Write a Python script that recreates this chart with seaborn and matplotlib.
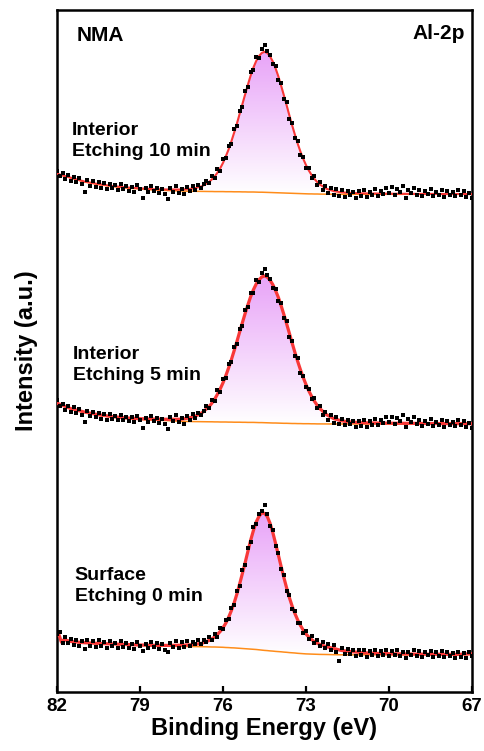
import numpy as np
import matplotlib
matplotlib.use("Agg")
import matplotlib.pyplot as plt
import seaborn as sns
from matplotlib.colors import LinearSegmentedColormap

sns.set_theme(style="ticks")
plt.rcParams['font.family'] = ['Liberation Sans', 'DejaVu Sans']
plt.rcParams['font.weight'] = 'bold'
plt.rcParams['text.color'] = 'black'
plt.rcParams['axes.labelcolor'] = 'black'
plt.rcParams['xtick.color'] = 'black'
plt.rcParams['ytick.color'] = 'black'

# ---------------- data ----------------
# measured binding-energy axis (eV), 0.1 eV step
data_be = np.round(np.arange(82.0, 66.95, -0.1), 1)

# raw counts (already vertically offset for stacking)
int_10min = [521, 516, 519, 513, 517, 511, 515, 510, 514, 508,
             500, 512, 506, 511, 505, 510, 504, 509, 503, 508,
             504, 507, 502, 508, 503, 506, 501, 505, 500, 507,
             503, 494, 504, 500, 506, 501, 504, 499, 503, 498,
             493, 504, 500, 506, 499, 503, 498, 505, 501, 506,
             502, 507, 504, 508, 511, 509, 516, 514, 523, 521,
             533, 534, 546, 548, 563, 566, 581, 585, 601, 605,
             620, 622, 635, 634, 643, 647, 641, 637, 628, 626,
             612, 609, 593, 590, 573, 569, 554, 551, 537, 535,
             524, 524, 514, 516, 507, 510, 502, 506, 499, 504,
             497, 503, 496, 502, 495, 501, 497, 500, 494, 501,
             496, 502, 495, 500, 497, 503, 496, 501, 498, 504,
             499, 505, 497, 503, 500, 506, 494, 502, 499, 504,
             497, 502, 496, 501, 498, 503, 496, 500, 497, 502,
             495, 501, 497, 500, 496, 502, 497, 501, 495, 499,
             494]

int_5min = [292, 286, 288, 282, 286, 280, 285, 279, 283, 277,
            270, 281, 276, 280, 275, 279, 273, 278, 272, 278,
            273, 276, 272, 277, 272, 275, 271, 275, 270, 276,
            272, 264, 274, 270, 276, 271, 274, 269, 273, 268,
            263, 275, 271, 277, 270, 274, 268, 276, 272, 278,
            274, 279, 277, 281, 286, 284, 292, 291, 302, 300,
            313, 314, 328, 330, 345, 348, 363, 366, 382, 385,
            399, 399, 412, 410, 419, 423, 417, 413, 404, 403,
            391, 389, 374, 371, 355, 351, 336, 334, 319, 316,
            305, 303, 293, 294, 284, 286, 277, 280, 272, 277,
            269, 275, 268, 273, 267, 272, 268, 271, 265, 271,
            266, 272, 265, 271, 267, 273, 267, 272, 269, 275,
            270, 275, 268, 274, 271, 277, 265, 273, 270, 275,
            268, 272, 266, 271, 268, 273, 266, 270, 267, 272,
            265, 271, 267, 270, 266, 272, 267, 271, 265, 269,
            264]

int_0min = [58, 60, 49, 55, 49, 53, 47, 52, 46, 51,
            43, 52, 46, 51, 45, 52, 46, 50, 44, 51,
            46, 49, 44, 51, 45, 49, 44, 48, 43, 50,
            46, 41, 48, 44, 50, 45, 49, 43, 48, 42,
            40, 49, 45, 51, 44, 50, 45, 51, 46, 50,
            48, 52, 48, 52, 50, 55, 52, 58, 55, 64,
            63, 72, 73, 84, 87, 101, 106, 122, 127, 144,
            150, 165, 168, 178, 181, 187, 178, 166, 162, 146,
            139, 123, 117, 101, 97, 83, 81, 69, 69, 59,
            61, 53, 56, 49, 52, 46, 50, 44, 48, 42,
            47, 40, 31, 44, 38, 43, 38, 42, 36, 42,
            37, 42, 35, 41, 37, 42, 36, 41, 37, 42,
            36, 41, 37, 42, 36, 40, 34, 40, 37, 42,
            36, 41, 35, 40, 37, 41, 35, 40, 36, 41,
            35, 40, 36, 39, 34, 40, 35, 39, 34, 40,
            36]

# fitted envelope / background energies
fit_be = [82.0, 81.5, 81.0, 80.5, 80.0, 79.5, 79.0, 78.5, 78.0, 77.5, 77.25, 77.0, 76.75,
          76.5, 76.4, 76.3, 76.2, 76.1, 76.0, 75.9, 75.8, 75.7, 75.6,
          75.5, 75.4, 75.3, 75.2, 75.1, 75.0, 74.9, 74.8, 74.7, 74.6,
          74.5, 74.4, 74.3, 74.2, 74.1, 74.0, 73.9, 73.8, 73.7, 73.6,
          73.5, 73.4, 73.3, 73.2, 73.1, 73.0, 72.9, 72.8, 72.7, 72.6,
          72.5, 72.25, 72.0, 71.75, 71.5, 71.0, 70.5, 70.0, 69.5, 69.0, 68.5, 68.0, 67.5, 67.0]

env_10min = [518.3, 514.3, 510.4, 507.9, 506.0, 504.6, 503.7, 502.8, 502.5, 502.5, 502.9, 503.9, 505.9,
             510.1, 512.7, 515.6, 519.4, 523.8, 529.1, 535.5, 542.4, 550.4, 559.1,
             568.1, 578.0, 587.8, 597.6, 607.3, 616.5, 624.5, 631.0, 635.9, 639.0,
             640.2, 639.0, 635.6, 630.5, 623.7, 615.7, 606.4, 596.7, 586.7, 576.5,
             566.6, 557.2, 548.3, 540.3, 533.2, 526.9, 521.6, 517.1, 513.2, 510.1,
             507.5, 503.1, 500.9, 499.8, 499.2, 498.7, 498.5, 498.3, 498.2, 498.1, 498.1, 498.0, 498.0, 497.9]
bg_10min = [518.0, 514.0, 510.0, 507.5, 505.5, 504.0, 503.0, 502.0, 501.5, 501.0, 500.8, 500.7, 500.6,
            500.5, 500.5, 500.4, 500.4, 500.4, 500.4, 500.3, 500.3, 500.3, 500.2,
            500.2, 500.2, 500.1, 500.1, 500.0, 500.0, 500.0, 499.9, 499.8, 499.8,
            499.7, 499.6, 499.5, 499.4, 499.3, 499.2, 499.1, 499.0, 498.9, 498.8,
            498.7, 498.6, 498.5, 498.4, 498.3, 498.2, 498.1, 498.1, 498.0, 498.0,
            497.9, 497.8, 497.7, 497.7, 497.7, 497.7, 497.7, 497.7, 497.7, 497.7, 497.7, 497.7, 497.7, 497.7]

env_5min = [288.8, 283.4, 279.9, 277.3, 275.4, 274.1, 273.3, 272.9, 272.7, 272.8, 273.9, 275.8, 279.4,
            285.5, 288.9, 292.9, 297.8, 303.1, 309.2, 316.2, 323.9, 332.1, 341.1,
            350.2, 359.9, 369.3, 378.5, 387.2, 395.4, 402.3, 408.0, 412.2, 415.0,
            416.1, 414.9, 411.9, 407.4, 401.4, 394.7, 386.4, 377.5, 368.2, 358.6,
            348.9, 339.5, 330.6, 322.2, 314.5, 307.5, 301.2, 295.8, 291.0, 286.9,
            283.4, 277.2, 273.4, 271.4, 270.2, 269.3, 269.0, 268.8, 268.7, 268.6, 268.5, 268.4, 268.35, 268.3]
bg_5min = [288.5, 283.0, 279.5, 276.8, 274.8, 273.4, 272.5, 271.9, 271.4, 270.6, 270.5, 270.4, 270.3,
           270.2, 270.2, 270.1, 270.1, 270.0, 270.0, 270.0, 269.9, 269.9, 269.8,
           269.8, 269.8, 269.7, 269.7, 269.6, 269.6, 269.6, 269.5, 269.4, 269.4,
           269.3, 269.2, 269.1, 269.0, 269.0, 268.9, 268.8, 268.7, 268.7, 268.6,
           268.5, 268.5, 268.4, 268.4, 268.3, 268.3, 268.3, 268.2, 268.2, 268.1,
           268.1, 268.05, 268.0, 268.0, 268.0, 268.0, 268.0, 268.0, 268.0, 268.0, 268.0, 268.0, 268.0, 268.0]

fit_be_0min = [82.0, 81.95, 81.9, 81.85, 81.8, 81.75, 81.7, 81.6] + fit_be[1:]
env_0min = [57.5, 58.5, 55.0, 50.5, 48.5, 52.5, 52.0, 51.3,
            50.5, 49.25, 48.6, 48.05, 47.5, 47.0, 46.7, 46.6, 46.8, 47.1, 47.7, 48.8,
            51.6, 53.2, 55.0, 57.6, 60.6, 64.2, 68.8, 74.5, 81.2, 88.9,
            97.8, 107.9, 118.5, 129.3, 140.7, 151.8, 161.6, 170.0, 175.6, 179.0,
            178.7, 175.5, 168.8, 159.5, 148.6, 137.1, 125.6, 114.5, 104.0, 94.3,
            85.8, 78.4, 72.0, 66.5, 61.9, 58.0, 55.0, 52.5, 50.4, 48.8,
            47.6, 45.2, 43.6, 41.7, 40.7, 39.4, 38.7, 38.3, 38.1, 37.9, 37.8, 37.7, 37.65, 38.3]
bg_0min = [57.3, 58.3, 54.8, 50.3, 48.3, 52.3, 51.8, 51.1,
           50.3, 49.0, 48.3, 47.7, 47.1, 46.5, 46.1, 45.8, 45.6, 45.5, 45.4, 45.3,
           45.1, 45.0, 45.0, 44.9, 44.8, 44.7, 44.5, 44.4, 44.2, 44.1,
           43.9, 43.7, 43.5, 43.3, 43.1, 42.9, 42.7, 42.5, 42.2, 41.9,
           41.6, 41.4, 41.1, 40.9, 40.6, 40.4, 40.2, 39.9, 39.7, 39.4,
           39.2, 39.0, 38.7, 38.5, 38.3, 38.1, 38.0, 37.9, 37.8, 37.7,
           37.6, 37.5, 37.3, 37.2, 37.2, 37.2, 37.2, 37.2, 37.2, 37.2, 37.2, 37.2, 37.2, 37.5]

sample_labels = ["Interior\nEtching 10 min", "Interior\nEtching 5 min", "Surface\nEtching 0 min"]
x_ticks = [82, 79, 76, 73, 70, 67]

# ---------------- figure ----------------
fig = plt.figure(figsize=(4.85, 7.51), dpi=100)
ax = fig.add_axes([57 / 485, 1 - 692 / 751, 415 / 485, 682 / 751])

cmap = LinearSegmentedColormap.from_list("pk", ["#FFFFFF", "#E8A3F8"])
grad = np.linspace(0, 1, 256).reshape(-1, 1)

spectra = [
    (fit_be, env_10min, bg_10min, int_10min, 1.5),
    (fit_be, env_5min, bg_5min, int_5min, 2.3),
    (fit_be_0min, env_0min, bg_0min, int_0min, 2.3),
]

for fbe, env, bg, counts, lw in spectra:
    poly = ax.fill_between(fbe, bg, env, facecolor="none", edgecolor="none")
    path = poly.get_paths()[0]
    im = ax.imshow(grad, cmap=cmap, origin="lower", aspect="auto",
                   extent=(82, 67, min(bg), max(env)), zorder=1)
    im.set_clip_path(path, transform=ax.transData)
    sns.lineplot(x=fbe, y=bg, color="#FF8C1A", lw=1.1, ax=ax, sort=False,
                 estimator=None, zorder=2)
    sns.lineplot(x=fbe, y=env, color="#F83838", lw=lw, ax=ax, sort=False,
                 estimator=None, zorder=4)
    sns.scatterplot(x=data_be, y=counts, color="black", marker="s", s=5,
                    linewidth=0, ax=ax, zorder=5)

ax.set_xlim(82, 67)
ax.set_ylim(0, 682)
ax.set_xticks(x_ticks)
ax.set_xticklabels([str(t) for t in x_ticks])
ax.set_yticks([])
ax.tick_params(axis="x", direction="in", length=4, width=1.6, pad=4,
               labelsize=13.5, bottom=True, top=False, colors="black")
for lab in ax.get_xticklabels():
    lab.set_fontweight("bold")
for sp in ax.spines.values():
    sp.set_linewidth(1.8)
    sp.set_color("black")
    sp.set_visible(True)

ax.set_xlabel("Binding Energy (eV)", fontsize=17, fontweight="bold", color="black")
ax.set_ylabel("Intensity (a.u.)", fontsize=17, fontweight="bold", color="black")
ax.xaxis.set_label_coords(0.5, -0.036)
ax.yaxis.set_label_coords(-0.045, 0.5)

ax.text(0.048, 0.962, "NMA", transform=ax.transAxes, fontsize=15,
        fontweight="bold", ha="left", va="center", color="black")
ax.text(0.983, 0.966, "Al-2p", transform=ax.transAxes, fontsize=15,
        fontweight="bold", ha="right", va="center", color="black")
label_pos = [(0.036, 0.808), (0.039, 0.4795), (0.043, 0.1554)]
for (lx, ly), txt in zip(label_pos, sample_labels):
    ax.text(lx, ly, txt, transform=ax.transAxes, fontsize=14,
            fontweight="bold", ha="left", va="center", linespacing=1.35,
            color="black")

fig.savefig("out.png", dpi=100)
